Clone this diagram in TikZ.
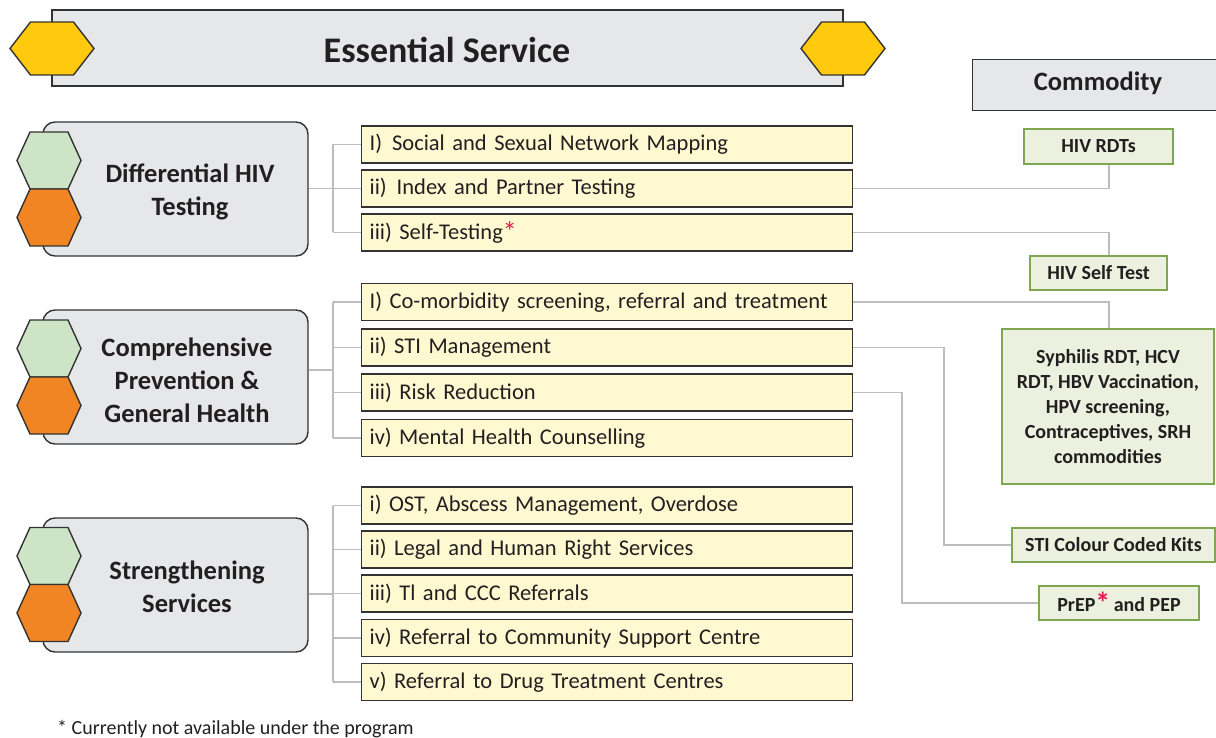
\documentclass[tikz,border=0pt]{standalone}
\usepackage{fontspec}
\setmainfont{Carlito}
\definecolor{txt}{HTML}{231F20}
\definecolor{boxgray}{HTML}{E6E7E8}
\definecolor{bord}{HTML}{333333}
\definecolor{hexyellow}{HTML}{FFC90E}
\definecolor{hexgreen}{HTML}{CDE4C6}
\definecolor{hexorange}{HTML}{F28523}
\definecolor{svcfill}{HTML}{FFF9D2}
\definecolor{comfill}{HTML}{EBF1DE}
\definecolor{comborder}{HTML}{7FA650}
\definecolor{connc}{HTML}{BDBDBD}
\definecolor{starred}{HTML}{E8174F}
\newcommand\myhex[5]{% cx cy halfwidth halftop color
  \draw[line width=1.4pt, draw=bord, fill=#5] (#1-#3,#2) -- (#1-#4,#2-26.5*#3/42) -- (#1+#4,#2-26.5*#3/42) -- (#1+#3,#2) -- (#1+#4,#2+26.5*#3/42) -- (#1-#4,#2+26.5*#3/42) -- cycle;}
\newcommand\cathex[3]{% cx cy color
  \draw[line width=1.4pt, draw=bord, fill=#3] (#1-32,#2) -- (#1-19,#2-28.5) -- (#1+19,#2-28.5) -- (#1+32,#2) -- (#1+19,#2+28.5) -- (#1-19,#2+28.5) -- cycle;}
\newcommand\redstar{\textcolor{starred}{\fontsize{28}{28}\selectfont\raisebox{-0.08em}{*}}}
\tikzset{
  conn/.style={draw=connc, line width=1.4pt},
  catbox/.style={draw=bord, fill=boxgray, line width=1.4pt, rounded corners=12pt, minimum width=265pt, minimum height=134pt, inner sep=0pt},
  cattext/.style={text=txt, font=\fontsize{26.5}{33}\selectfont\bfseries, align=center, inner sep=0pt},
  svc/.style={draw=bord, fill=svcfill, line width=1.2pt, minimum width=491pt, minimum height=37pt, text width=475pt, align=left, inner xsep=8pt, inner ysep=0pt, anchor=west, text=txt, font=\fontsize{22.5}{26}\selectfont},
  com/.style={draw=comborder, fill=comfill, line width=1.4pt, inner sep=0pt, text=txt, align=center, font=\fontsize{20}{25}\selectfont\bfseries},
}
\begin{document}
\begin{tikzpicture}[x=1pt,y=-1pt]
\useasboundingbox (0,0) rectangle (1216,738);
\clip (0,0) rectangle (1216,738);
% title
\node[draw=bord, fill=boxgray, line width=1.2pt, minimum width=791pt, minimum height=76pt, inner sep=0pt] (title) at (447.5,48) {};
\node[text=txt, font=\fontsize{36}{40}\selectfont\bfseries, inner sep=0pt] (titletext) at (447,50) {Essential Service};
\myhex{52}{48.5}{42}{21.5}{hexyellow}
\myhex{843}{48.5}{42}{21.5}{hexyellow}
% commodity header
\node[draw=bord, fill=boxgray, line width=1.2pt, minimum width=254pt, minimum height=51pt, inner sep=0pt, anchor=north west] (comhead) at (972,59) {};
\node[text=txt, font=\fontsize{26.5}{30}\selectfont\bfseries, inner sep=0pt] (comheadtext) at (1098,83) {Commodity};
% category boxes
\node[catbox] (cat1) at (175.5,189) {};
\node[catbox] (cat2) at (175.5,377) {};
\node[catbox] (cat3) at (175.5,585) {};
\cathex{49}{160.5}{hexgreen}
\cathex{49}{217.5}{hexorange}
\cathex{49}{348.5}{hexgreen}
\cathex{49}{405.5}{hexorange}
\cathex{49}{556}{hexgreen}
\cathex{49}{613}{hexorange}
\node[cattext] (cat1t) at (190,192) {Differential HIV\\Testing};
\node[cattext] (cat2t) at (187,380) {Comprehensive\\Prevention \&\\General Health};
\node[cattext] (cat3t) at (187,587) {Strengthening\\Services};
% service boxes
\node[svc] (s11) at (361,144.5) {I)\hspace{10pt}Social and Sexual Network Mapping};
\node[svc] (s12) at (361,188.5) {ii)\hspace{10pt}Index and Partner Testing};
\node[svc] (s13) at (361,232.5) {iii) Self-Testing\redstar};
\node[svc] (s21) at (361,302) {I) Co-morbidity screening, referral and treatment};
\node[svc] (s22) at (361,347.5) {ii) STI Management};
\node[svc] (s23) at (361,392.5) {iii) Risk Reduction};
\node[svc] (s24) at (361,438) {iv) Mental Health Counselling};
\node[svc] (s31) at (361,505.5) {i) OST, Abscess Management, Overdose};
\node[svc] (s32) at (361,549.5) {ii) Legal and Human Right Services};
\node[svc] (s33) at (361,593.5) {iii) Tl and CCC Referrals};
\node[svc] (s34) at (361,638) {iv) Referral to Community Support Centre};
\node[svc] (s35) at (361,682) {v) Referral to Drug Treatment Centres};
% buses
\coordinate (b1) at (333,188.5);
\coordinate (b2) at (333,370);
\coordinate (b3) at (333,594);
\draw[conn] (cat1.east |- b1) -- (b1);
\draw[conn] (b1 |- s11.west) -- (b1 |- s13.west);
\foreach \s in {s11,s12,s13} \draw[conn] (b1 |- \s.west) -- (\s.west);
\draw[conn] (cat2.east |- b2) -- (b2);
\draw[conn] (b2 |- s21.west) -- (b2 |- s24.west);
\foreach \s in {s21,s22,s23,s24} \draw[conn] (b2 |- \s.west) -- (\s.west);
\draw[conn] (cat3.east |- b3) -- (b3);
\draw[conn] (b3 |- s31.west) -- (b3 |- s35.west);
\foreach \s in {s31,s32,s33,s34,s35} \draw[conn] (b3 |- \s.west) -- (\s.west);
% commodities
\node[com, minimum width=149pt, minimum height=35pt] (rdt) at (1098.5,146.5) {HIV RDTs};
\node[com, minimum width=137pt, minimum height=34pt] (selft) at (1098.5,273) {HIV Self Test};
\node[com, minimum width=212pt, minimum height=155pt] (big) at (1108,406.5) {Syphilis RDT, HCV\\RDT, HBV Vaccination,\\HPV screening,\\Contraceptives, SRH\\commodities};
\node[com, minimum width=203pt, minimum height=34pt] (kits) at (1113.5,545) {STI Colour Coded Kits};
\node[com, minimum width=160pt, minimum height=34pt] (prep) at (1119,603) {PrEP\textcolor{starred}{\fontsize{30}{30}\selectfont\raisebox{-0.08em}{*}}\,and PEP};
% commodity connectors
\coordinate (v1) at (1109,0);
\coordinate (v2) at (944,0);
\coordinate (v3) at (902,0);
\draw[conn] (s12.east) -| (v1 |- rdt.south);
\draw[conn] (s13.east) -| (v1 |- selft.north);
\draw[conn] (s21.east) -| (v1 |- big.north);
\draw[conn] (s22.east) -| (v2 |- kits.west) -- (kits.west);
\draw[conn] (s23.east) -| (v3 |- prep.west) -- (prep.west);
% footnote
\node[text=txt, font=\fontsize{20}{24}\selectfont, inner sep=0pt, anchor=west] (foot) at (57,729) {* Currently not available under the program};
\end{tikzpicture}
\end{document}
